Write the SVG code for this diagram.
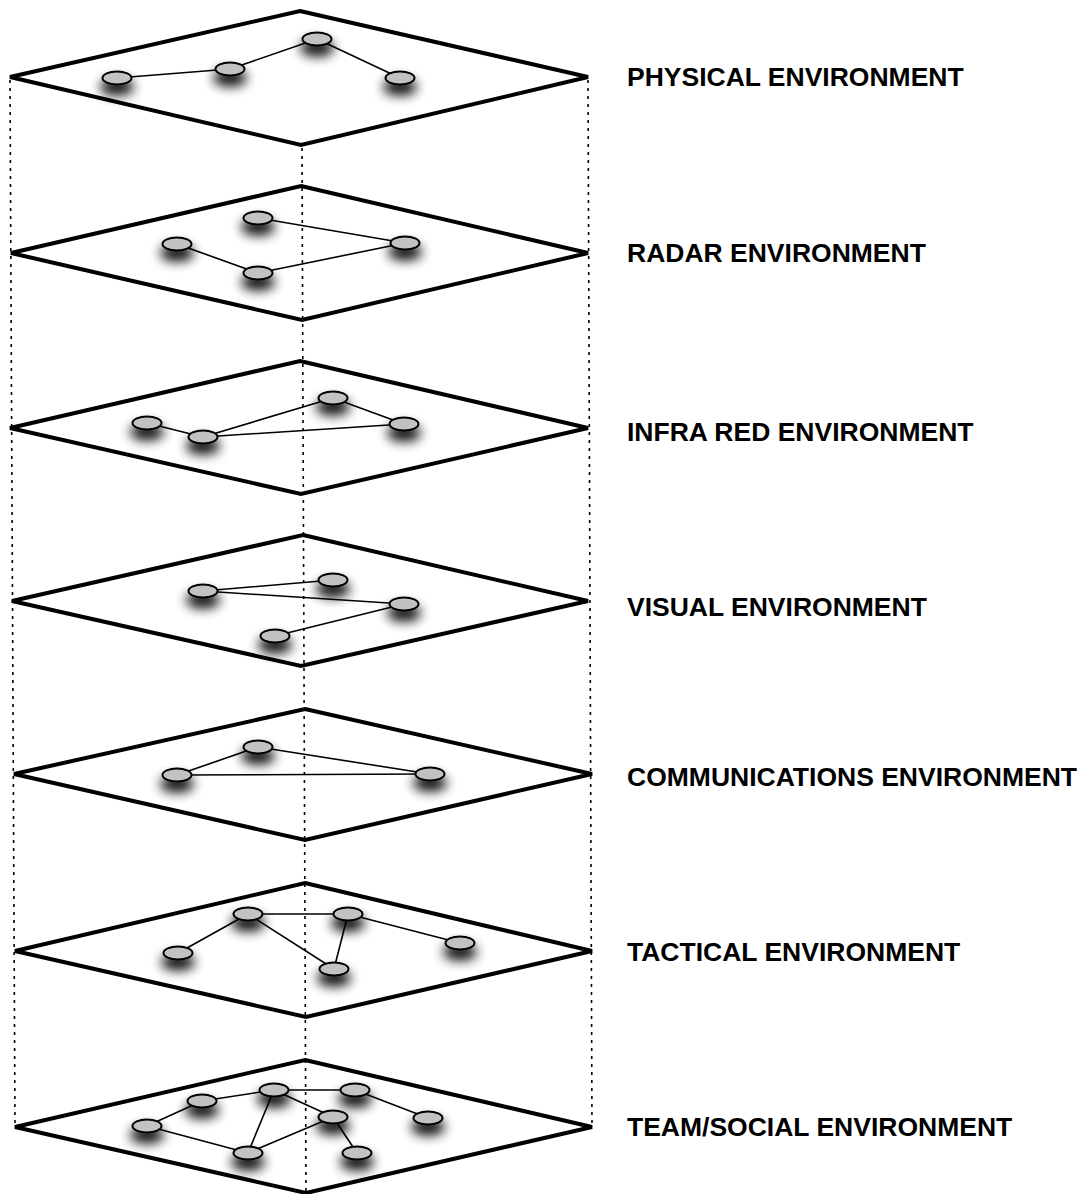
<svg xmlns="http://www.w3.org/2000/svg" width="1086" height="1194" viewBox="0 0 1086 1194">
  <style>
    .plane { fill: none; stroke: #000; stroke-width: 4; stroke-linejoin: miter; }
    .guide { fill: none; stroke: #000; stroke-width: 1.6; stroke-dasharray: 3 5; }
    .edge { stroke: #000; stroke-width: 1.6; fill: none; }
    .node ellipse { fill: #c1c3c1; stroke: #000; stroke-width: 2; filter: url(#shadow); }
    .label { font-family: "Liberation Sans", Arial, sans-serif; font-weight: bold; font-size: 26.5px; fill: #000; }
  </style>
  <defs>
    <!-- soft drop shadow under each node -->
    <filter id="shadow" x="-100%" y="-150%" width="300%" height="500%">
      <feMorphology in="SourceAlpha" operator="dilate" radius="1" result="spread"/>
      <feGaussianBlur in="spread" stdDeviation="6"/>
      <feOffset dx="0" dy="9" result="blur"/>
      <feComponentTransfer><feFuncA type="linear" slope="0.95"/></feComponentTransfer>
      <feMerge><feMergeNode/><feMergeNode in="SourceGraphic"/></feMerge>
    </filter>
  </defs>
  <rect width="1086" height="1194" fill="#fff"/>

  <!-- vertical dotted guides linking the stacked planes -->
  <g id="guides">
    <line class="guide" x1="10" y1="80" x2="15" y2="1127"/>
    <line class="guide" x1="302" y1="148" x2="306" y2="1193"/>
    <line class="guide" x1="588" y1="80" x2="592" y2="1127"/>
  </g>

  <!-- planes -->
  <g id="planes">
    <polygon id="plane-physical" class="plane" points="300,11 588,77 301,145 10,77"/>
    <polygon id="plane-radar" class="plane" points="301,186 588,253 302,320 11,253"/>
    <polygon id="plane-infrared" class="plane" points="300,361 588,428 301,494 10,428"/>
    <polygon id="plane-visual" class="plane" points="303,535 588,601 301,666 12,601"/>
    <polygon id="plane-comms" class="plane" points="305,709 592,774 305,840 14,774"/>
    <polygon id="plane-tactical" class="plane" points="305,883 592,951 306,1017 15,951"/>
    <polygon id="plane-team" class="plane" points="305,1060 592,1127 306,1193 15,1127"/>
  </g>

  <!-- connectors between nodes -->
  <g id="connectors">
    <!-- physical -->
    <line class="edge" x1="117" y1="78" x2="230" y2="69"/>
    <line class="edge" x1="230" y1="69" x2="317" y2="39"/>
    <line class="edge" x1="317" y1="39" x2="400" y2="78"/>
    <!-- radar -->
    <line class="edge" x1="258" y1="218" x2="405" y2="243"/>
    <line class="edge" x1="177" y1="244" x2="258" y2="273"/>
    <line class="edge" x1="258" y1="273" x2="405" y2="243"/>
    <!-- infra red -->
    <line class="edge" x1="147" y1="423" x2="203" y2="437"/>
    <line class="edge" x1="203" y1="437" x2="333" y2="398"/>
    <line class="edge" x1="203" y1="437" x2="404" y2="424"/>
    <line class="edge" x1="333" y1="398" x2="404" y2="424"/>
    <!-- visual -->
    <line class="edge" x1="203" y1="591" x2="333" y2="580"/>
    <line class="edge" x1="203" y1="591" x2="404" y2="604"/>
    <line class="edge" x1="404" y1="604" x2="275" y2="636"/>
    <!-- communications -->
    <line class="edge" x1="177" y1="775" x2="258" y2="747"/>
    <line class="edge" x1="258" y1="747" x2="430" y2="774"/>
    <line class="edge" x1="177" y1="775" x2="430" y2="774"/>
    <!-- tactical -->
    <line class="edge" x1="178" y1="953" x2="248" y2="914"/>
    <line class="edge" x1="248" y1="914" x2="348" y2="914"/>
    <line class="edge" x1="248" y1="914" x2="334" y2="969"/>
    <line class="edge" x1="348" y1="914" x2="334" y2="969"/>
    <line class="edge" x1="348" y1="914" x2="460" y2="943"/>
    <!-- team / social -->
    <line class="edge" x1="147" y1="1126" x2="202" y2="1101"/>
    <line class="edge" x1="202" y1="1101" x2="274" y2="1090"/>
    <line class="edge" x1="274" y1="1090" x2="355" y2="1090"/>
    <line class="edge" x1="274" y1="1090" x2="333" y2="1117"/>
    <line class="edge" x1="274" y1="1090" x2="248" y2="1153"/>
    <line class="edge" x1="147" y1="1126" x2="248" y2="1153"/>
    <line class="edge" x1="248" y1="1153" x2="333" y2="1117"/>
    <line class="edge" x1="333" y1="1117" x2="357" y2="1153"/>
    <line class="edge" x1="355" y1="1090" x2="428" y2="1118"/>
  </g>

  <!-- nodes -->
  <g id="nodes-physical">
    <g id="phys-1" class="node"><ellipse cx="117" cy="78" rx="14.5" ry="6.5"/></g>
    <g id="phys-2" class="node"><ellipse cx="230" cy="69" rx="14.5" ry="6.5"/></g>
    <g id="phys-3" class="node"><ellipse cx="317" cy="39" rx="14.5" ry="6.5"/></g>
    <g id="phys-4" class="node"><ellipse cx="400" cy="78" rx="14.5" ry="6.5"/></g>
  </g>
  <g id="nodes-radar">
    <g id="radar-1" class="node"><ellipse cx="258" cy="218" rx="14.5" ry="6.5"/></g>
    <g id="radar-2" class="node"><ellipse cx="177" cy="244" rx="14.5" ry="6.5"/></g>
    <g id="radar-3" class="node"><ellipse cx="258" cy="273" rx="14.5" ry="6.5"/></g>
    <g id="radar-4" class="node"><ellipse cx="405" cy="243" rx="14.5" ry="6.5"/></g>
  </g>
  <g id="nodes-infrared">
    <g id="ir-1" class="node"><ellipse cx="147" cy="423" rx="14.5" ry="6.5"/></g>
    <g id="ir-2" class="node"><ellipse cx="203" cy="437" rx="14.5" ry="6.5"/></g>
    <g id="ir-3" class="node"><ellipse cx="333" cy="398" rx="14.5" ry="6.5"/></g>
    <g id="ir-4" class="node"><ellipse cx="404" cy="424" rx="14.5" ry="6.5"/></g>
  </g>
  <g id="nodes-visual">
    <g id="vis-1" class="node"><ellipse cx="203" cy="591" rx="14.5" ry="6.5"/></g>
    <g id="vis-2" class="node"><ellipse cx="333" cy="580" rx="14.5" ry="6.5"/></g>
    <g id="vis-3" class="node"><ellipse cx="404" cy="604" rx="14.5" ry="6.5"/></g>
    <g id="vis-4" class="node"><ellipse cx="275" cy="636" rx="14.5" ry="6.5"/></g>
  </g>
  <g id="nodes-comms">
    <g id="comm-1" class="node"><ellipse cx="258" cy="747" rx="14.5" ry="6.5"/></g>
    <g id="comm-2" class="node"><ellipse cx="177" cy="775" rx="14.5" ry="6.5"/></g>
    <g id="comm-3" class="node"><ellipse cx="430" cy="774" rx="14.5" ry="6.5"/></g>
  </g>
  <g id="nodes-tactical">
    <g id="tac-1" class="node"><ellipse cx="248" cy="914" rx="14.5" ry="6.5"/></g>
    <g id="tac-2" class="node"><ellipse cx="348" cy="914" rx="14.5" ry="6.5"/></g>
    <g id="tac-3" class="node"><ellipse cx="178" cy="953" rx="14.5" ry="6.5"/></g>
    <g id="tac-4" class="node"><ellipse cx="334" cy="969" rx="14.5" ry="6.5"/></g>
    <g id="tac-5" class="node"><ellipse cx="460" cy="943" rx="14.5" ry="6.5"/></g>
  </g>
  <g id="nodes-team">
    <g id="team-1" class="node"><ellipse cx="202" cy="1101" rx="14.5" ry="6.5"/></g>
    <g id="team-2" class="node"><ellipse cx="274" cy="1090" rx="14.5" ry="6.5"/></g>
    <g id="team-3" class="node"><ellipse cx="355" cy="1090" rx="14.5" ry="6.5"/></g>
    <g id="team-4" class="node"><ellipse cx="147" cy="1126" rx="14.5" ry="6.5"/></g>
    <g id="team-5" class="node"><ellipse cx="333" cy="1117" rx="14.5" ry="6.5"/></g>
    <g id="team-6" class="node"><ellipse cx="428" cy="1118" rx="14.5" ry="6.5"/></g>
    <g id="team-7" class="node"><ellipse cx="248" cy="1153" rx="14.5" ry="6.5"/></g>
    <g id="team-8" class="node"><ellipse cx="357" cy="1153" rx="14.5" ry="6.5"/></g>
  </g>

  <!-- plane labels -->
  <g id="labels">
    <text class="label" x="627" y="86">PHYSICAL ENVIRONMENT</text>
    <text class="label" x="627" y="262">RADAR ENVIRONMENT</text>
    <text class="label" x="627" y="441">INFRA RED ENVIRONMENT</text>
    <text class="label" x="627" y="616">VISUAL ENVIRONMENT</text>
    <text class="label" x="627" y="786">COMMUNICATIONS ENVIRONMENT</text>
    <text class="label" x="627" y="961">TACTICAL ENVIRONMENT</text>
    <text class="label" x="627" y="1136">TEAM/SOCIAL ENVIRONMENT</text>
  </g>
</svg>
